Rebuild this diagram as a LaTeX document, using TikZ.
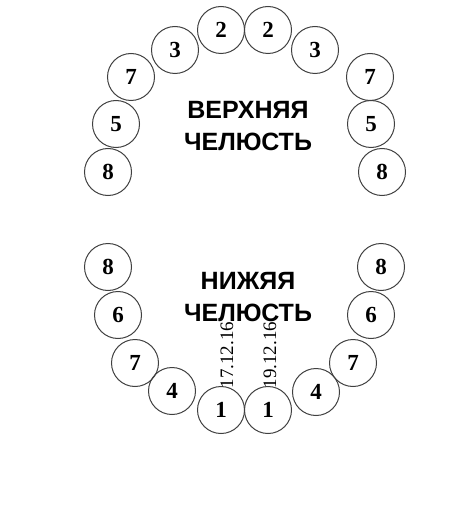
\documentclass[tikz,border=0pt]{standalone}
\usepackage{fontspec}
\setmainfont{Liberation Serif}
\newfontfamily\jawfont{Liberation Sans}
\tikzset{>=latex}
\tikzset{
  tooth/.style={circle,draw=black!75,line width=1pt,minimum size=47pt,inner sep=0pt,
    font=\fontsize{23}{23}\selectfont\bfseries},
  jawlabel/.style={align=center,font=\jawfont\fontsize{25}{32.5}\selectfont\bfseries},
  datelabel/.style={rotate=90,inner sep=0pt,font=\fontsize{19}{19}\selectfont}
}

\begin{document}
\begin{tikzpicture}[x=1pt,y=-1pt]
  \useasboundingbox (0,0) rectangle (473,513);
  % upper jaw
  \foreach \name/\px/\py/\num in {uL8/108/172/8, uL5/116/124/5, uL7/131/77/7, uL3/175/50/3, uL2/221/30/2,
                                  uR2/268/30/2, uR3/315/50/3, uR7/370/77/7, uR5/371/124/5, uR8/382/172/8}
    \node[tooth] (\name) at (\px,\py) {\num};
  \node[jawlabel] (upper) at (248,126) {ВЕРХНЯЯ\\ЧЕЛЮСТЬ};
  % lower jaw
  \foreach \name/\px/\py/\num in {lL8/108/267/8, lL6/118/315/6, lL7/135/363/7, lL4/172/391/4, lL1/221/410/1,
                                  lR1/268/410/1, lR4/316/392/4, lR7/353/363/7, lR6/371/315/6, lR8/381/267/8}
    \node[tooth] (\name) at (\px,\py) {\num};
  \node[jawlabel] (lower) at (248,297) {НИЖЯЯ\\ЧЕЛЮСТЬ};
  % dates
  \node[datelabel] (dateL) at (227,355) {17.12.16};
  \node[datelabel] (dateR) at (270,355) {19.12.16};
\end{tikzpicture}
\end{document}
